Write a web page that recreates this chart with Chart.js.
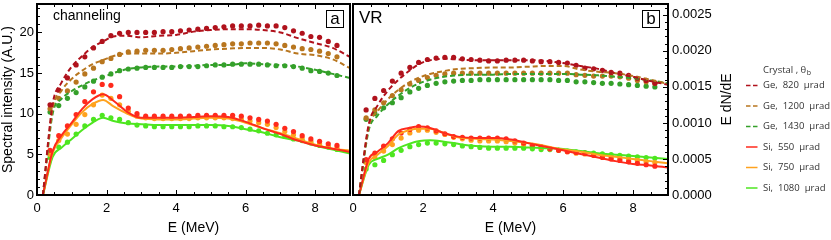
<!DOCTYPE html>
<html>
<head>
<meta charset="utf-8">
<script src="https://cdn.jsdelivr.net/npm/chart.js@4.4.1/dist/chart.umd.min.js"></script>
<style>
  body { margin: 0; background: #fff; }
  #wrap { position: relative; width: 831px; height: 240px; }
  canvas { position: absolute; top: 0; }
</style>
</head>
<body>
<div id="wrap">
  <canvas id="chartA" width="354" height="240" style="left:0"></canvas>
  <canvas id="chartB" width="491" height="240" style="left:340px"></canvas>
</div>
<script>
// energy grids (MeV)
const lineE = [0.17, 0.45, 0.7, 1.0, 1.3, 1.6, 1.9, 2.2, 2.6, 3.0, 3.5, 4.0, 4.5, 5.0, 5.5, 6.0, 6.5, 7.0, 7.5, 8.0, 8.5, 9.0];
const dotE = [0.375, 0.625, 0.875, 1.125, 1.375, 1.625, 1.875, 2.125, 2.375, 2.625, 2.875, 3.125, 3.375, 3.625, 3.875, 4.125, 4.375,
  4.625, 4.875, 5.125, 5.375, 5.625, 5.875, 6.125, 6.375, 6.625, 6.875, 7.125, 7.375, 7.625, 7.875, 8.125, 8.375, 8.625];

const crystals = ["Ge,  820  μrad", "Ge,  1200  μrad", "Ge,  1430  μrad", "Si,  550  μrad", "Si,  750  μrad", "Si,  1080  μrad"];

// panel a - channeling, simulation (lines)
const chGe820 = [0, 11.2, 13.8, 15.8, 17.1, 18.2, 18.9, 19.5, 19.6, 19.4, 19.6, 19.7, 20.1, 20.3, 20.4, 20.4, 20.3, 20.0, 19.3, 18.7, 18.1, 17.0];
const chGe1200 = [0, 10.6, 12.8, 14.3, 15.3, 16.1, 16.6, 17.1, 17.4, 17.4, 17.4, 17.5, 17.7, 17.9, 18.0, 18.1, 18.1, 17.9, 17.4, 17.2, 16.7, 15.6];
const chGe1430 = [0, 10.0, 11.8, 12.8, 13.5, 14.1, 14.5, 15.0, 15.5, 15.7, 15.8, 15.8, 15.9, 16.0, 16.0, 16.2, 16.1, 16.0, 15.8, 15.4, 14.9, 14.4];
const chSi550 = [0, 5.4, 7.3, 8.9, 10.6, 11.8, 12.4, 11.6, 10.2, 9.5, 9.5, 9.5, 9.6, 9.7, 9.6, 9.0, 8.2, 7.5, 6.7, 6.1, 5.7, 5.3];
const chSi750 = [0, 5.2, 7.0, 8.7, 10.2, 11.2, 11.7, 10.9, 10.0, 9.4, 9.3, 9.3, 9.4, 9.5, 9.4, 8.9, 8.2, 7.6, 6.9, 6.2, 5.7, 5.45];
const chSi1080 = [0, 4.7, 5.8, 6.9, 8.0, 8.9, 9.5, 9.1, 8.8, 8.7, 8.6, 8.6, 8.6, 8.6, 8.5, 8.1, 7.7, 7.1, 6.7, 6.1, 5.6, 5.1];

// panel a - channeling, experiment (dots)
const chGe820Exp = [11.1, 12.9, 14.4, 16.0, 17.0, 18.1, 18.9, 19.6, 19.9, 20.0, 20.0, 20.0, 20.0, 20.1, 20.1, 20.2, 20.3, 20.4, 20.5, 20.6, 20.7, 20.8, 20.8, 20.8, 20.9, 20.8, 20.8, 20.6, 20.2, 19.9, 19.5, 19.4, 18.9, 18.4];
const chGe1200Exp = [10.6, 11.9, 12.8, 13.9, 14.9, 15.6, 16.4, 16.8, 17.3, 17.6, 17.7, 17.8, 17.8, 17.8, 17.9, 18.0, 18.1, 18.2, 18.3, 18.4, 18.5, 18.6, 18.6, 18.7, 18.7, 18.7, 18.6, 18.4, 18.2, 18.0, 17.9, 17.7, 17.4, 17.0];
const chGe1430Exp = [10.2, 11.0, 11.9, 12.6, 13.3, 14.0, 14.5, 14.9, 15.3, 15.5, 15.6, 15.7, 15.7, 15.7, 15.7, 15.8, 15.8, 15.8, 15.9, 16.0, 16.0, 16.1, 16.1, 16.1, 16.1, 16.0, 15.9, 15.9, 15.8, 15.6, 15.3, 15.2, 15.0, 14.7];
const chSi550Exp = [5.5, 7.3, 8.5, 9.9, 11.5, 12.7, 13.6, 13.5, 12.1, 10.7, 10.0, 9.7, 9.7, 9.7, 9.7, 9.7, 9.7, 9.8, 9.8, 9.8, 9.8, 9.8, 9.7, 9.5, 9.3, 9.1, 8.7, 8.2, 7.8, 7.3, 6.9, 6.6, 6.3, 6.1];
const chSi750Exp = [5.0, 6.7, 7.5, 8.7, 9.9, 11.1, 12.3, 11.9, 11.1, 10.3, 9.7, 9.5, 9.4, 9.4, 9.4, 9.4, 9.4, 9.5, 9.5, 9.5, 9.5, 9.4, 9.3, 9.1, 8.9, 8.7, 8.3, 7.8, 7.4, 7.0, 6.6, 6.3, 6.0, 5.8];
const chSi1080Exp = [4.6, 5.9, 6.5, 7.5, 8.5, 9.3, 9.8, 9.5, 9.3, 8.9, 8.6, 8.5, 8.4, 8.4, 8.4, 8.4, 8.4, 8.5, 8.5, 8.5, 8.4, 8.4, 8.3, 8.1, 7.9, 7.6, 7.4, 7.2, 6.9, 6.7, 6.4, 6.1, 5.9, 5.6];

// panel b - volume reflection, simulation (lines)
const vrGe820 = [0, 0.00098, 0.00124, 0.00145, 0.00160, 0.00172, 0.00182, 0.00187, 0.00189, 0.00188, 0.00187, 0.00187, 0.00187, 0.00187, 0.00186, 0.00183, 0.00179, 0.00175, 0.00169, 0.00164, 0.00158, 0.00153];
const vrGe1200 = [0, 0.00095, 0.00116, 0.00133, 0.00146, 0.00156, 0.00163, 0.00168, 0.00172, 0.00175, 0.00176, 0.00177, 0.00177, 0.00178, 0.00179, 0.00179, 0.00174, 0.00171, 0.00169, 0.00165, 0.00160, 0.00154];
const vrGe1430 = [0, 0.00090, 0.00110, 0.00126, 0.00138, 0.00148, 0.00155, 0.00160, 0.00164, 0.00166, 0.00167, 0.00167, 0.00168, 0.00168, 0.00168, 0.00168, 0.00167, 0.00166, 0.00164, 0.00162, 0.00159, 0.00155];
const vrSi550 = [0, 0.00050, 0.00060, 0.00072, 0.00089, 0.00093, 0.00095, 0.00093, 0.00086, 0.00081, 0.00079, 0.00079, 0.00077, 0.00072, 0.00067, 0.00062, 0.00057, 0.00052, 0.00047, 0.00043, 0.00041, 0.00038];
const vrSi750 = [0, 0.00045, 0.00056, 0.00068, 0.00084, 0.00090, 0.00092, 0.00092, 0.00086, 0.00080, 0.00078, 0.00077, 0.00075, 0.00072, 0.00068, 0.00063, 0.00060, 0.00056, 0.00053, 0.00050, 0.00047, 0.00044];
const vrSi1080 = [0, 0.00042, 0.00050, 0.00056, 0.00065, 0.00071, 0.00075, 0.00076, 0.00074, 0.00071, 0.00068, 0.00067, 0.00067, 0.00066, 0.00065, 0.00064, 0.00061, 0.00058, 0.00056, 0.00054, 0.00052, 0.00050];

// panel b - volume reflection, experiment (dots)
const vrGe820Exp = [0.00118, 0.00134, 0.00145, 0.00158, 0.00169, 0.00177, 0.00184, 0.00188, 0.00190, 0.00191, 0.00191, 0.00189, 0.00188, 0.00187, 0.00186, 0.00186, 0.00187, 0.00187, 0.00187, 0.00186, 0.00185, 0.00185, 0.00184, 0.00183, 0.00180, 0.00176, 0.00175, 0.00173, 0.00170, 0.00169, 0.00166, 0.00162, 0.00159, 0.00155];
const vrGe1200Exp = [0.00107, 0.00118, 0.00128, 0.00138, 0.00146, 0.00154, 0.00159, 0.00163, 0.00166, 0.00168, 0.00169, 0.00169, 0.00169, 0.00169, 0.00169, 0.00169, 0.00169, 0.00169, 0.00169, 0.00169, 0.00169, 0.00169, 0.00169, 0.00169, 0.00167, 0.00166, 0.00165, 0.00165, 0.00165, 0.00164, 0.00162, 0.00159, 0.00157, 0.00155];
const vrGe1430Exp = [0.00105, 0.00113, 0.00121, 0.00128, 0.00135, 0.00143, 0.00148, 0.00152, 0.00155, 0.00157, 0.00158, 0.00159, 0.00159, 0.00160, 0.00160, 0.00160, 0.00160, 0.00160, 0.00160, 0.00160, 0.00160, 0.00160, 0.00159, 0.00159, 0.00157, 0.00157, 0.00156, 0.00155, 0.00155, 0.00154, 0.00153, 0.00152, 0.00151, 0.00150];
const vrSi550Exp = [0.00049, 0.00058, 0.00068, 0.00078, 0.00086, 0.00091, 0.00095, 0.00093, 0.00089, 0.00085, 0.00081, 0.00080, 0.00079, 0.00079, 0.00079, 0.00079, 0.00078, 0.00075, 0.00072, 0.00069, 0.00067, 0.00064, 0.00062, 0.00060, 0.00059, 0.00058, 0.00055, 0.00052, 0.00050, 0.00048, 0.00046, 0.00044, 0.00042, 0.00040];
const vrSi750Exp = [0.00045, 0.00052, 0.00061, 0.00070, 0.00079, 0.00086, 0.00090, 0.00090, 0.00087, 0.00084, 0.00080, 0.00078, 0.00076, 0.00075, 0.00075, 0.00075, 0.00074, 0.00072, 0.00070, 0.00068, 0.00066, 0.00064, 0.00062, 0.00060, 0.00058, 0.00057, 0.00055, 0.00054, 0.00052, 0.00051, 0.00049, 0.00048, 0.00046, 0.00045];
const vrSi1080Exp = [0.00036, 0.00042, 0.00048, 0.00056, 0.00062, 0.00067, 0.00070, 0.00072, 0.00072, 0.00071, 0.00070, 0.00068, 0.00067, 0.00066, 0.00065, 0.00065, 0.00065, 0.00065, 0.00065, 0.00064, 0.00063, 0.00063, 0.00062, 0.00061, 0.00060, 0.00059, 0.00058, 0.00057, 0.00056, 0.00055, 0.00054, 0.00053, 0.00052, 0.00051];

const colors = ["#b0121c", "#b8761f", "#34a02a", "#ff2a1c", "#ffa21e", "#4ee620"];
const isGe = [true, true, true, false, false, false];

Chart.defaults.font.family = "'Liberation Sans', Arial, sans-serif";
Chart.defaults.font.size = 13;
Chart.defaults.color = "#000";

const pts = (xs, ys) => xs.map((x, i) => ({ x, y: ys[i] }));

function buildDatasets(lines, dots) {
  const sets = [];
  lines.forEach((ys, i) => sets.push({
    label: crystals[i],
    isLine: true,
    data: pts(lineE, ys),
    showLine: true,
    borderColor: colors[i],
    borderWidth: 2,
    borderDash: isGe[i] ? [5, 3] : [],
    pointRadius: 0,
    cubicInterpolationMode: "monotone",
    fill: false
  }));
  dots.forEach((ys, i) => sets.push({
    label: crystals[i] + " (exp)",
    data: pts(dotE, ys),
    showLine: false,
    pointRadius: 2.6,
    pointBorderWidth: 0,
    pointBackgroundColor: colors[i],
    borderColor: colors[i]
  }));
  return sets;
}

// drop the auto padding Chart.js reserves for edge labels
const noPad = s => { s.paddingTop = 0; s.paddingBottom = 0; s.paddingLeft = 0; s.paddingRight = 0; };

// frame, inward ticks, panel tags, and (panel b) y title + legend
const panelDeco = {
  id: "panelDeco",
  afterDatasetsDraw(chart, args, o) {
    const ctx = chart.ctx;
    const a = chart.chartArea;
    const xs = chart.scales.x, ys = chart.scales.y;
    ctx.save();
    ctx.strokeStyle = "#000";
    ctx.lineWidth = 1;
    ctx.beginPath();
    for (let i = 0; i * 0.5 <= xs.max + 1e-9; i++) {
      const px = Math.round(xs.getPixelForValue(i * 0.5)) + 0.5;
      const len = i % 4 === 0 ? 5 : 3;
      ctx.moveTo(px, a.bottom); ctx.lineTo(px, a.bottom - len);
      ctx.moveTo(px, a.top); ctx.lineTo(px, a.top + len);
    }
    const side = o.tickSide === "left" ? a.left : a.right;
    const dir = o.tickSide === "left" ? 1 : -1;
    for (let i = 0; i * o.yMinor <= ys.max + o.yMinor * 1e-6; i++) {
      const py = Math.round(ys.getPixelForValue(i * o.yMinor)) + 0.5;
      const len = i % o.yMajorEvery === 0 ? 5 : 3;
      ctx.moveTo(side, py); ctx.lineTo(side + dir * len, py);
    }
    ctx.stroke();

    ctx.lineWidth = 2;
    ctx.strokeRect(a.left, a.top, a.right - a.left, a.bottom - a.top);

    ctx.fillStyle = "#000";
    ctx.textAlign = "left";
    ctx.textBaseline = "middle";
    ctx.font = o.labelFont;
    ctx.fillText(o.label, a.left + o.labelDx, a.top + o.labelDy);

    // boxed letter
    const bx = a.right - o.boxDx, by = a.top + 6;
    ctx.fillStyle = "#fff";
    ctx.fillRect(bx, by, 17, 17);
    ctx.lineWidth = 1;
    ctx.strokeRect(bx + 0.5, by + 0.5, 17, 17);
    ctx.fillStyle = "#000";
    ctx.textAlign = "center";
    ctx.font = "17px 'Liberation Sans', Arial, sans-serif";
    ctx.fillText(o.tag, bx + 9, by + 9.5);

    if (o.legend) {
      // rotated right-axis title
      ctx.save();
      ctx.translate(a.right + 59, (a.top + a.bottom) / 2);
      ctx.rotate(-Math.PI / 2);
      ctx.font = "14px 'Liberation Sans', Arial, sans-serif";
      ctx.textAlign = "center";
      ctx.fillText("E dN/dE", 0, 0);
      ctx.restore();

      const tx = a.right + 95, mx = a.right + 78;
      ctx.font = "9.5px 'Open Sans', sans-serif";
      ctx.fillStyle = "#333";
      ctx.textAlign = "left";
      ctx.fillText("Crystal , θ", tx, 70);
      const w = ctx.measureText("Crystal , θ").width;
      ctx.font = "7px 'Open Sans', sans-serif";
      ctx.fillText("b", tx + w + 0.5, 73);
      ctx.font = "9.5px 'Open Sans', sans-serif";
      chart.data.datasets.filter(d => d.isLine).forEach((d, i) => {
        const y = 85.5 + 20.5 * i;
        ctx.strokeStyle = d.borderColor;
        ctx.lineWidth = 1.5;
        ctx.setLineDash(d.borderDash.length ? [4.5, 2.5] : []);
        ctx.beginPath();
        ctx.moveTo(mx, y); ctx.lineTo(mx + 11.5, y);
        ctx.stroke();
        ctx.setLineDash([]);
        ctx.fillStyle = "#333";
        ctx.fillText(d.label, tx, y);
      });
    }
    ctx.restore();
  }
};

function xAxis() {
  return {
    type: "linear", min: 0, max: 9,
    grid: { display: false, drawTicks: false }, border: { display: false },
    ticks: { stepSize: 2, includeBounds: false, padding: 6, maxRotation: 0 },
    title: { display: true, text: "E (MeV)", font: { size: 14 }, padding: { top: 4, bottom: 3 } },
    afterFit: s => { s.height = 45; noPad(s); }
  };
}

new Chart(document.getElementById("chartA"), {
  type: "scatter",
  data: { datasets: buildDatasets(
    [chGe820, chGe1200, chGe1430, chSi550, chSi750, chSi1080],
    [chGe820Exp, chGe1200Exp, chGe1430Exp, chSi550Exp, chSi750Exp, chSi1080Exp]) },
  options: {
    responsive: false, animation: false,
    layout: { padding: { left: 0, right: 2, top: 1, bottom: 0 } },
    plugins: {
      legend: { display: false }, tooltip: { enabled: false },
      panelDeco: { tickSide: "left", yMinor: 1, yMajorEvery: 5, label: "channeling",
        labelFont: "14px 'Liberation Sans', Arial, sans-serif", labelDx: 16, labelDy: 12, tag: "a", boxDx: 24 }
    },
    scales: {
      x: xAxis(),
      y: {
        min: 0, max: 23.5,
        grid: { display: false, drawTicks: false }, border: { display: false },
        ticks: { stepSize: 5, includeBounds: false, padding: 3 },
        title: { display: true, text: "Spectral intensity (A.U.)", font: { size: 14 }, padding: { top: 0, bottom: 0 } },
        afterFit: s => { s.width = 37; noPad(s); }
      }
    }
  },
  plugins: [panelDeco]
});

new Chart(document.getElementById("chartB"), {
  type: "scatter",
  data: { datasets: buildDatasets(
    [vrGe820, vrGe1200, vrGe1430, vrSi550, vrSi750, vrSi1080],
    [vrGe820Exp, vrGe1200Exp, vrGe1430Exp, vrSi550Exp, vrSi750Exp, vrSi1080Exp]) },
  options: {
    responsive: false, animation: false,
    layout: { padding: { left: 13, right: 0, top: 1, bottom: 0 } },
    plugins: {
      legend: { display: false }, tooltip: { enabled: false },
      panelDeco: { tickSide: "right", yMinor: 0.0001, yMajorEvery: 5, label: "VR",
        labelFont: "17px 'Liberation Sans', Arial, sans-serif", labelDx: 6, labelDy: 14, tag: "b", boxDx: 26, legend: true }
    },
    scales: {
      x: xAxis(),
      y: {
        position: "right", min: 0, max: 0.00265,
        grid: { display: false, drawTicks: false }, border: { display: false },
        ticks: { stepSize: 0.0005, includeBounds: false, padding: 4, callback: v => v.toFixed(4) },
        afterFit: s => { s.width = 163; noPad(s); }
      }
    }
  },
  plugins: [panelDeco]
});
</script>
</body>
</html>
